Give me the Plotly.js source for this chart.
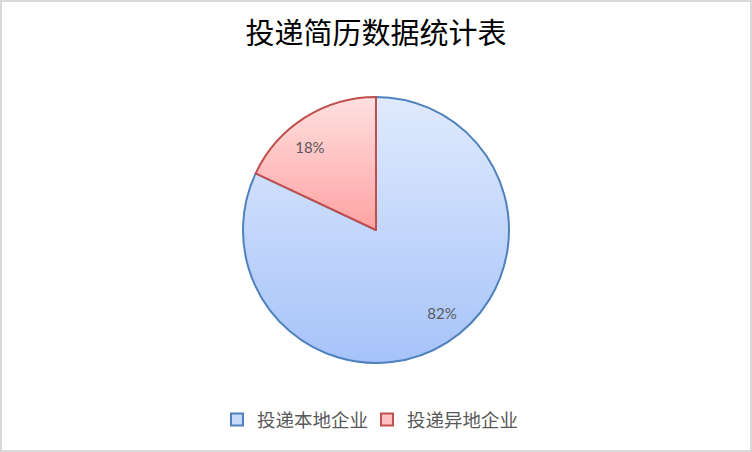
<!DOCTYPE html>
<html>
<head>
<meta charset="utf-8">
<script src="https://cdn.plot.ly/plotly-3.0.1.min.js"></script>
<style>
  html, body { margin: 0; padding: 0; background: #fff; }
  #wrap { position: relative; width: 752px; height: 452px; }
  #chart { position: absolute; left: 0; top: 0; width: 752px; height: 452px; }
  #frame { position: absolute; left: 0; top: 0; width: 752px; height: 452px; box-sizing: border-box; border: 2px solid #d9d9d9; pointer-events: none; }
</style>
</head>
<body>
<div id="wrap"><div id="chart"></div><div id="frame"></div></div>
<script>
const titleText = "投递简历数据统计表";
const categories = ["投递本地企业", "投递异地企业"];
const values = [82, 18];
const fillColors = ["#c6d9fb", "#ffc2c2"];
const lineColors = ["#4f81bd", "#c0504d"];

const gradients = [
  { id: "gBlue", top: "#e0eafd", bottom: "#a6c3f9" },
  { id: "gRed", top: "#ffe0e0", bottom: "#ffa2a2" }
];

// plot area geometry (pixels)
const W = 752, H = 452;
const M = { l: 20, r: 20, t: 60, b: 60 };
const pieBox = { x0: 243, x1: 509, y0: 97, y1: 363 };
const gw = W - M.l - M.r, gh = H - M.t - M.b;
const pieDomain = {
  x: [(pieBox.x0 - M.l) / gw, (pieBox.x1 - M.l) / gw],
  y: [1 - (pieBox.y1 - M.t) / gh, 1 - (pieBox.y0 - M.t) / gh]
};

const pieCommon = {
  type: "pie",
  labels: categories,
  values: values,
  sort: false,
  direction: "clockwise",
  domain: pieDomain,
  hoverinfo: "none"
};

const data = [
  Object.assign({}, pieCommon, {
    rotation: 0,
    marker: { colors: fillColors, line: { color: lineColors, width: 2 } },
    textinfo: "none",
    textposition: "none",
    showlegend: true
  }),
  // label layer: transparent ring so percentages sit toward the rim
  Object.assign({}, pieCommon, {
    rotation: -6,
    hole: 0.6,
    marker: { colors: ["rgba(0,0,0,0)", "rgba(0,0,0,0)"], line: { width: 0 } },
    texttemplate: "%{percent:.0%}",
    textposition: "inside",
    insidetextorientation: "horizontal",
    textfont: { family: "Lato, 'Open Sans', sans-serif", size: 15, color: "#595959" },
    showlegend: false
  })
];

const layout = {
  width: W, height: H,
  margin: M,
  paper_bgcolor: "#ffffff",
  plot_bgcolor: "#ffffff",
  title: {
    text: titleText,
    font: { family: "'Noto Sans CJK SC', sans-serif", size: 29, color: "#000000" },
    x: 0.5, xanchor: "center", xref: "container",
    y: 1 - 34 / H, yanchor: "middle", yref: "container"
  },
  showlegend: true,
  legend: {
    orientation: "h",
    x: 0.488, xanchor: "center", xref: "container",
    y: 1 - 420 / H, yanchor: "middle", yref: "container",
    font: { family: "'Noto Sans CJK SC', sans-serif", size: 18.5, color: "#595959" },
    entrywidth: 105,
    traceorder: "normal"
  }
};

Plotly.newPlot("chart", data, layout, { staticPlot: true }).then(function (gd) {
  const svg = gd.querySelector("svg.main-svg");
  const ns = "http://www.w3.org/2000/svg";
  let defs = svg.querySelector("defs");
  if (!defs) { defs = document.createElementNS(ns, "defs"); svg.insertBefore(defs, svg.firstChild); }
  gradients.forEach(function (g) {
    const lg = document.createElementNS(ns, "linearGradient");
    lg.setAttribute("id", g.id);
    lg.setAttribute("x1", "0"); lg.setAttribute("y1", "0");
    lg.setAttribute("x2", "0"); lg.setAttribute("y2", "1");
    const s1 = document.createElementNS(ns, "stop");
    s1.setAttribute("offset", "0"); s1.setAttribute("stop-color", g.top);
    const s2 = document.createElementNS(ns, "stop");
    s2.setAttribute("offset", "1"); s2.setAttribute("stop-color", g.bottom);
    lg.appendChild(s1); lg.appendChild(s2);
    defs.appendChild(lg);
  });
  const firstTrace = gd.querySelector("g.pielayer g.trace");
  if (firstTrace) {
    firstTrace.querySelectorAll("g.slice path.surface").forEach(function (p, i) {
      p.style.fill = "url(#" + gradients[i].id + ")";
    });
  }
});
</script>
</body>
</html>
